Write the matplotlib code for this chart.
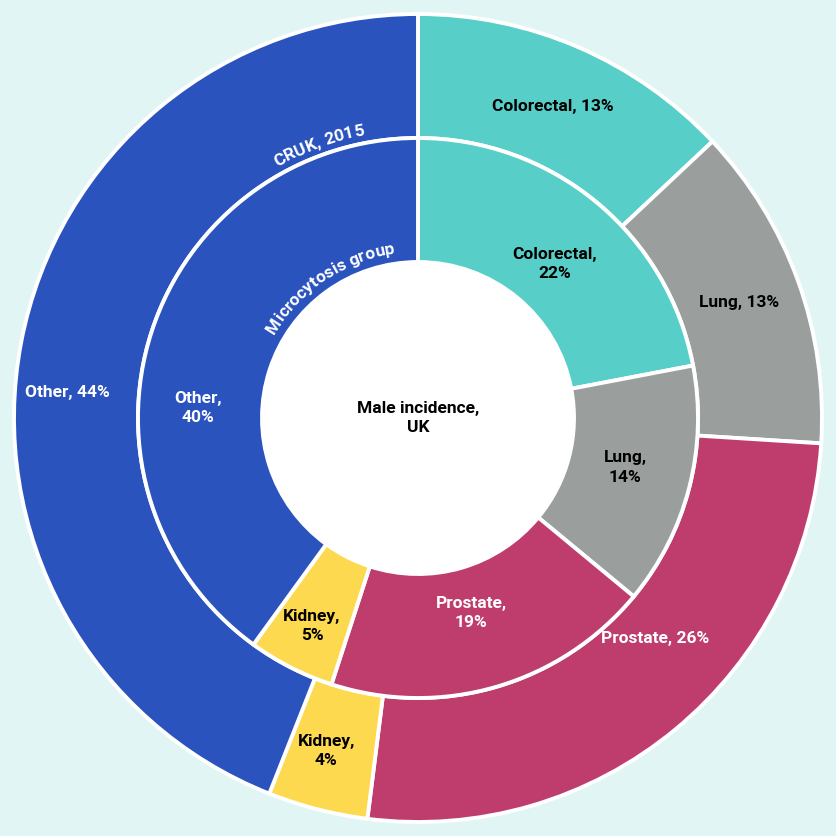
import numpy as np
import matplotlib
matplotlib.use("Agg")
import matplotlib.pyplot as plt
from matplotlib.font_manager import FontProperties, findfont, get_font

# data
categories = ["Colorectal", "Lung", "Prostate", "Kidney", "Other"]
outer_vals = [13, 13, 26, 4, 44]     # CRUK, 2015
inner_vals = [22, 14, 19, 5, 40]     # Microcytosis group
outer_labels = ["Colorectal, 13%", "Lung, 13%", "Prostate, 26%", "Kidney,\n4%", "Other, 44%"]
inner_labels = ["Colorectal,\n22%", "Lung,\n14%", "Prostate,\n19%", "Kidney,\n5%", "Other,\n40%"]

colors = ["#57cfc8", "#9a9f9e", "#bf3d6c", "#fdd94f", "#2a53be"]
label_colors = ["black", "black", "white", "black", "white"]
bg = "#e1f6f4"

# label placement tweaks (angle offset deg, radius)
outer_adj = [(0, 0.84), (0, 0.845), (7.5, 0.80), (-1, 0.855), (6.7, 0.87)]
inner_adj = [(-2, 0.51), (1, 0.527), (-1, 0.50), (0, 0.578), (15.4, 0.545)]

FONT = "Roboto"
FS = 12.5
LS = 1.4

W, H, DPI = 837, 836, 100
cx, cy, R = 418, 418, 404  # centre and outer radius in px

fig = plt.figure(figsize=(W / DPI, H / DPI), dpi=DPI, facecolor=bg)
ax = fig.add_axes([0, 0, 1, 1])
ax.set_facecolor(bg)

r_out, r_mid, r_in = 1.0, 280 / R, 156 / R
wp = dict(edgecolor="white", linewidth=2.8)
w1, _ = ax.pie(outer_vals, radius=r_out, colors=colors, startangle=90, counterclock=False,
               wedgeprops=dict(width=r_out - r_mid, **wp))
w2, _ = ax.pie(inner_vals, radius=r_mid, colors=colors, startangle=90, counterclock=False,
               wedgeprops=dict(width=r_mid - r_in, **wp))
ax.add_patch(plt.Circle((0, 0), r_in, color="white", zorder=5))


def put_labels(wedges, labels, adj):
    for w, lab, c, (da, rr) in zip(wedges, labels, label_colors, adj):
        a = np.deg2rad((w.theta1 + w.theta2) / 2 + da)
        ax.text(rr * np.cos(a), rr * np.sin(a), lab, ha="center", va="center",
                color=c, fontsize=FS, family=FONT, weight="bold", linespacing=LS, zorder=6)


put_labels(w1, outer_labels, outer_adj)
put_labels(w2, inner_labels, inner_adj)

ax.text(0, 0, "Male incidence,\nUK", ha="center", va="center", fontsize=FS,
        family=FONT, weight="bold", linespacing=LS, zorder=6)

# curved text along an arc, spaced by glyph advances
prop = FontProperties(family=FONT, weight="bold", size=FS)
ft = get_font(findfont(prop))
ft.set_size(FS, 72)


def adv(ch):
    g = ft.load_char(ord(ch))
    return g.linearHoriAdvance / 65536 * DPI / 72 / R


def curved(text, r, center_deg):
    advs = [adv(c) for c in text]
    total = sum(advs)
    start = np.deg2rad(center_deg) + total / r / 2
    pos = 0.0
    for ch, w in zip(text, advs):
        a = start - (pos + w / 2) / r
        pos += w
        ax.text(r * np.cos(a), r * np.sin(a), ch, rotation=np.rad2deg(a) - 90,
                rotation_mode="anchor", ha="center", va="baseline", color="white",
                fontproperties=prop, zorder=6)


curved("CRUK, 2015", 288 / R, 110)
curved("Microcytosis group", 166 / R, 124)

ax.set_xlim(-cx / R, (W - cx) / R)
ax.set_ylim(-(H - cy) / R, cy / R)
ax.set_aspect("auto")
ax.axis("off")

fig.savefig("out.png", dpi=DPI, facecolor=bg)
